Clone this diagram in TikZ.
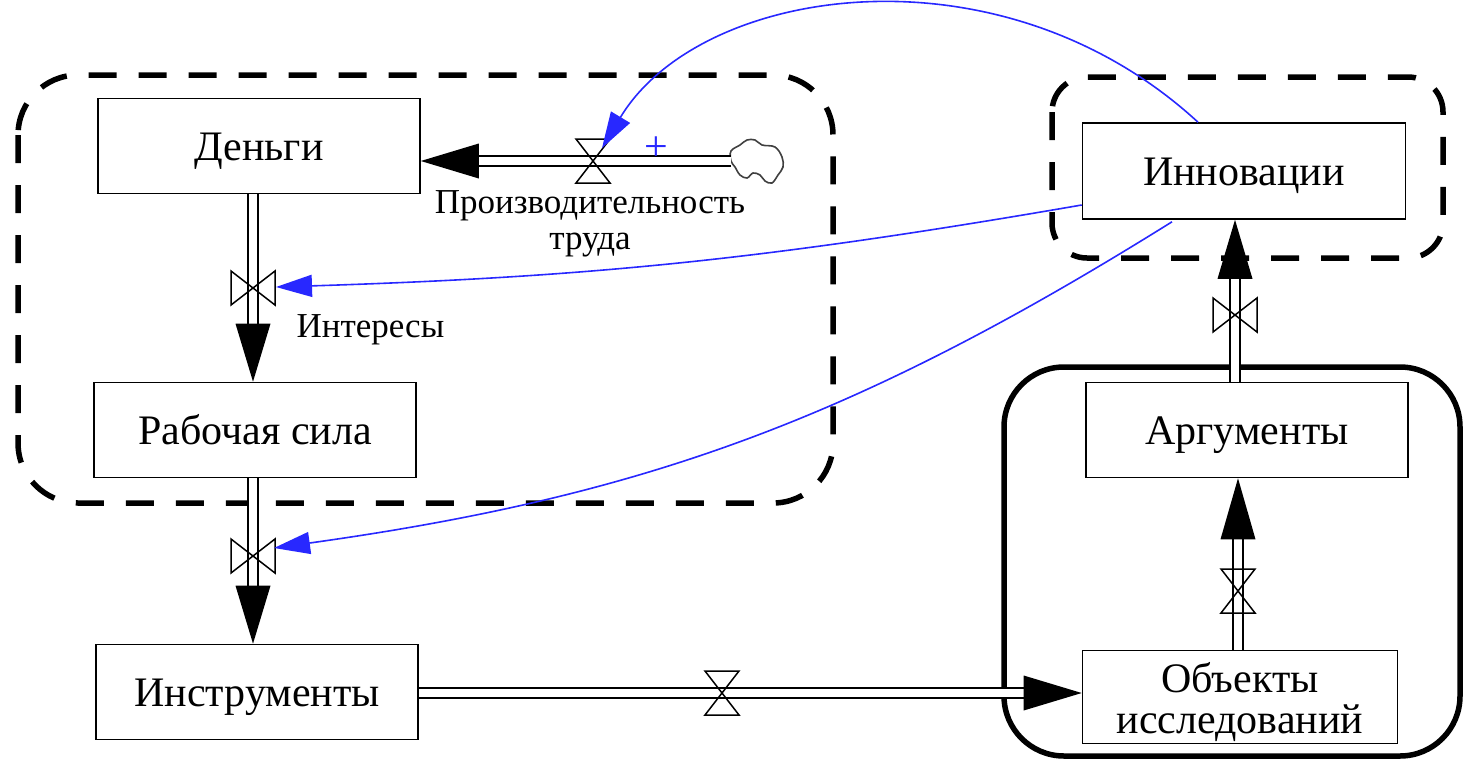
\documentclass[tikz,border=0pt]{standalone}
\usepackage{fontspec}
\setmainfont{Liberation Serif}
\usetikzlibrary{arrows.meta,calc}
\definecolor{infblue}{RGB}{40,40,255}
\tikzset{
  stock/.style={draw, line width=1.6pt, minimum width=322pt, minimum height=95pt,
    inner sep=0pt, align=center, fill=white, font=\fontsize{42}{48}\selectfont},
  onerow/.style={text height=30pt, text depth=2pt},
  pipe/.style={draw=black, line width=1.4pt, double=white, double distance=8.5pt},
  valvestroke/.style={line width=1.5pt},
  infl/.style={draw=infblue, line width=1.6pt, -{Triangle[length=36pt,width=22pt]}},
  grouped/.style={line width=5.5pt, dash pattern=on 28pt off 22pt},
  sector/.style={line width=5.5pt},
  lbl/.style={font=\fontsize{35}{36}\selectfont, align=center},
  bowtie/.pic={\draw[valvestroke] (-22,-17) -- (22,17) -- (22,-17) -- (-22,17) -- cycle;},
  hourglass/.pic={\draw[valvestroke] (-17,-22) -- (17,-22) -- (-17,22) -- (17,22) -- cycle;}
}
\begin{document}
\begin{tikzpicture}[x=1pt,y=-1pt]
\useasboundingbox (0,0) rectangle (1465,761);

% grouping frames
\draw[grouped, rounded corners=60pt] (18,75) rectangle (833,503);
\draw[grouped, rounded corners=35pt] (1052,77) rectangle (1443,258);
\draw[sector, rounded corners=60pt] (1004,367) rectangle (1460,756);

% stocks
\node[stock, onerow] (den) at (259,146) {Деньги};
\node[stock, onerow] (rab) at (255,430) {Рабочая сила};
\node[stock, onerow] (ins) at (257,692) {Инструменты};
\node[stock, onerow, minimum width=323pt, minimum height=96pt] (inn) at (1244,171) {Инновации};
\node[stock, onerow] (arg) at (1247,430) {Аргументы};
\node[stock, minimum width=315pt, minimum height=93pt] (obj) at (1240,697) {\rule{0pt}{40pt}Объекты\\[-7pt]исследований};

% valve positions
\coordinate (vPro) at (593,161);
\coordinate (vInt) at (253,288);
\coordinate (vRab) at (253,556);
\coordinate (vIns) at (722,693);
\coordinate (vObj) at (1238,591);
\coordinate (vArg) at (1235,315);
\coordinate (src) at (731,161);

% source cloud
\draw[line width=1.6pt, draw=black!75] plot[smooth cycle, tension=0.6] coordinates {
  (731,151) (740,145) (747,140) (755,140) (762,145) (775,147) (782,157) (783,167)
  (778,175) (772,183) (765,181) (760,175) (753,173) (747,178) (740,175) (735,167) (731,161)};

% flows (pipes)
\draw[pipe, shorten >=56pt] (src) -- (den.east |- vPro);
\fill (den.east |- vPro) -- ++(58,-17.5) -- ++(0,35) -- cycle;

\draw[pipe, shorten >=56pt] (den.south -| vInt) -- (rab.north -| vInt);
\fill (rab.north -| vInt) -- ++(-17.5,-58) -- ++(35,0) -- cycle;

\draw[pipe, shorten >=56pt] (rab.south -| vRab) -- (ins.north -| vRab);
\fill (ins.north -| vRab) -- ++(-17.5,-58) -- ++(35,0) -- cycle;

\draw[pipe, shorten >=56pt] (ins.east |- vIns) -- (obj.west |- vIns);
\fill (obj.west |- vIns) -- ++(-58,-17.5) -- ++(0,35) -- cycle;

\draw[pipe, shorten >=56pt] (obj.north -| vObj) -- (arg.south -| vObj);
\fill (arg.south -| vObj) -- ++(-17.5,61) -- ++(35,0) -- cycle;

\draw[pipe, shorten >=56pt] (arg.north -| vArg) -- (inn.south -| vArg);
\fill (inn.south -| vArg) -- ++(-17.5,59) -- ++(35,0) -- cycle;

% valves
\pic at (vPro) {hourglass};
\pic at (vInt) {bowtie};
\pic at (vRab) {bowtie};
\pic at (vIns) {hourglass};
\pic at (vObj) {hourglass};
\pic at (vArg) {bowtie};

% flow labels
\node[lbl] (lPro) at (590,224) {Производительность\\труда};
\node[lbl, anchor=west] (lInt) at (293,330) {Интересы};

% influences
\draw[infl] ($(inn.north)+(-46,0)$) .. controls (1000,-60) and (700,-15) .. ($(vPro)+(9,-13)$);
\node[text=infblue, font=\fontsize{42}{42}\selectfont, inner sep=0pt] (plus) at (656,149) {+};
\draw[infl] ($(inn.west)+(0,34)$) to[bend left=4] ($(vInt)+(23,-1)$);
\draw[infl] ($(inn.south)+(-72,2)$) to[bend left=12] ($(vRab)+(21,-8)$);
\end{tikzpicture}
\end{document}
